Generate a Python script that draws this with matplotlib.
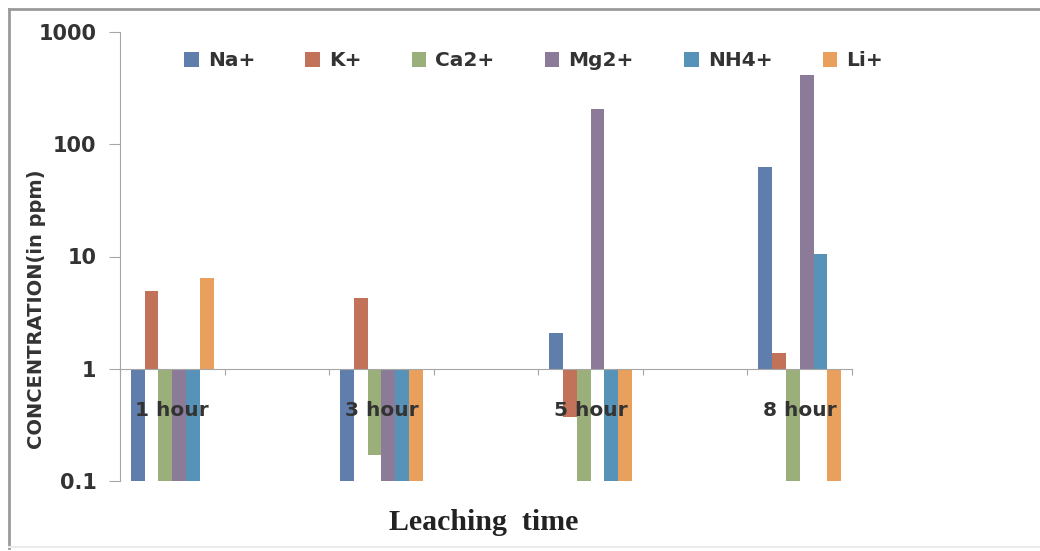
import numpy as np
import matplotlib
matplotlib.use("Agg")
import matplotlib.pyplot as plt
from matplotlib.lines import Line2D

# ---- data ----
categories = ["1 hour", "", "3 hour", "", "5 hour", "", "8 hour"]
ions = ["Na+", "K+", "Ca2+", "Mg2+", "NH4+", "Li+"]
na = [0.1, np.nan, 0.1, np.nan, 2.1, np.nan, 63]
k = [4.9, np.nan, 4.3, np.nan, 0.37, np.nan, 1.38]
ca = [0.1, np.nan, 0.17, np.nan, 0.1, np.nan, 0.1]
mg = [0.1, np.nan, 0.1, np.nan, 205, np.nan, 410]
nh4 = [0.1, np.nan, 0.1, np.nan, 0.1, np.nan, 10.5]
li = [6.5, np.nan, 0.1, np.nan, 0.1, np.nan, 0.1]
series = [na, k, ca, mg, nh4, li]
colors = ["#5F7EAB", "#C27259", "#9BAF7A", "#8C7B98", "#5793B8", "#E9A05C"]
yticks = [0.1, 1, 10, 100, 1000]
ytick_labels = ["0.1", "1", "10", "100", "1000"]

W, H = 1040, 551
fig = plt.figure(figsize=(W / 100, H / 100), dpi=100)
ax = fig.add_axes([120 / W, 1 - 481 / H, (852 - 120) / W, (481 - 32) / H])

x = np.arange(len(categories))
n = len(series)
bw = 0.132
base = 1.0
for i, (vals, c, name) in enumerate(zip(series, colors, ions)):
    v = np.array(vals, dtype=float)
    offs = (i - (n - 1) / 2) * bw
    ax.bar(x + offs, v - base, bottom=base, width=bw, color=c, label=name,
           linewidth=0, zorder=1)

ax.set_yscale("log")
ax.set_ylim(0.1, 1000)
ax.set_xlim(-0.5, len(categories) - 0.5)
ax.set_yticks(yticks)
ax.set_yticklabels(ytick_labels)
ax.yaxis.set_minor_locator(matplotlib.ticker.NullLocator())

for s in ["top", "right"]:
    ax.spines[s].set_visible(False)
axcol = "#A6A6A6"
ax.spines["left"].set_color(axcol)
ax.spines["bottom"].set_color(axcol)
ax.spines["bottom"].set_position(("data", 1))
ax.spines["bottom"].set_zorder(3)

ax.set_xticks(np.arange(-0.5, len(categories), 1.0))
ax.set_xticklabels([])
ax.set_xticks(x, minor=True)
ax.set_xticklabels(categories, minor=True)
ax.tick_params(axis="x", which="major", length=4, color=axcol, direction="out")
ax.tick_params(axis="x", which="minor", length=0, pad=23, labelsize=14.5,
               labelcolor="#333333")
ax.tick_params(axis="y", which="major", length=8, color=axcol, direction="out",
               labelsize=15, pad=9, labelcolor="#333333")
for lab in ax.get_xticklabels(minor=True) + ax.get_yticklabels():
    lab.set_fontfamily("DejaVu Sans")
    lab.set_fontweight("bold")
ax.set_axisbelow(False)

leg = ax.legend(loc="upper center", bbox_to_anchor=(0.565, 0.997), ncol=6,
                frameon=False, handlelength=0.72, handleheight=0.72,
                handletextpad=0.45, columnspacing=2.5,
                prop={"family": "DejaVu Sans", "weight": "bold", "size": 14.5})
for t in leg.get_texts():
    t.set_color("#333333")

fig.text(37 / W, 1 - 309 / H, "CONCENTRATION(in ppm)", rotation=90,
         ha="center", va="center", fontsize=14, fontweight="bold",
         family="DejaVu Sans", color="#333333")
fig.text(484 / W, 1 - 522 / H, "Leaching  time", ha="center", va="center",
         fontsize=21.5, fontweight="bold", family="Liberation Serif",
         color="#222222")

# outer frame
fig.add_artist(Line2D([9 / W, 1.0], [1 - 9 / H, 1 - 9 / H], color="#9A9A9A",
                      lw=2, transform=fig.transFigure))
fig.add_artist(Line2D([9 / W, 9 / W], [1 - 9 / H, 1 - 548 / H], color="#9A9A9A",
                      lw=2, transform=fig.transFigure))
fig.add_artist(Line2D([9 / W, 1.0], [1 - 547 / H, 1 - 547 / H], color="#EBEBEB",
                      lw=1.5, transform=fig.transFigure))

fig.savefig("out.png", dpi=100)
